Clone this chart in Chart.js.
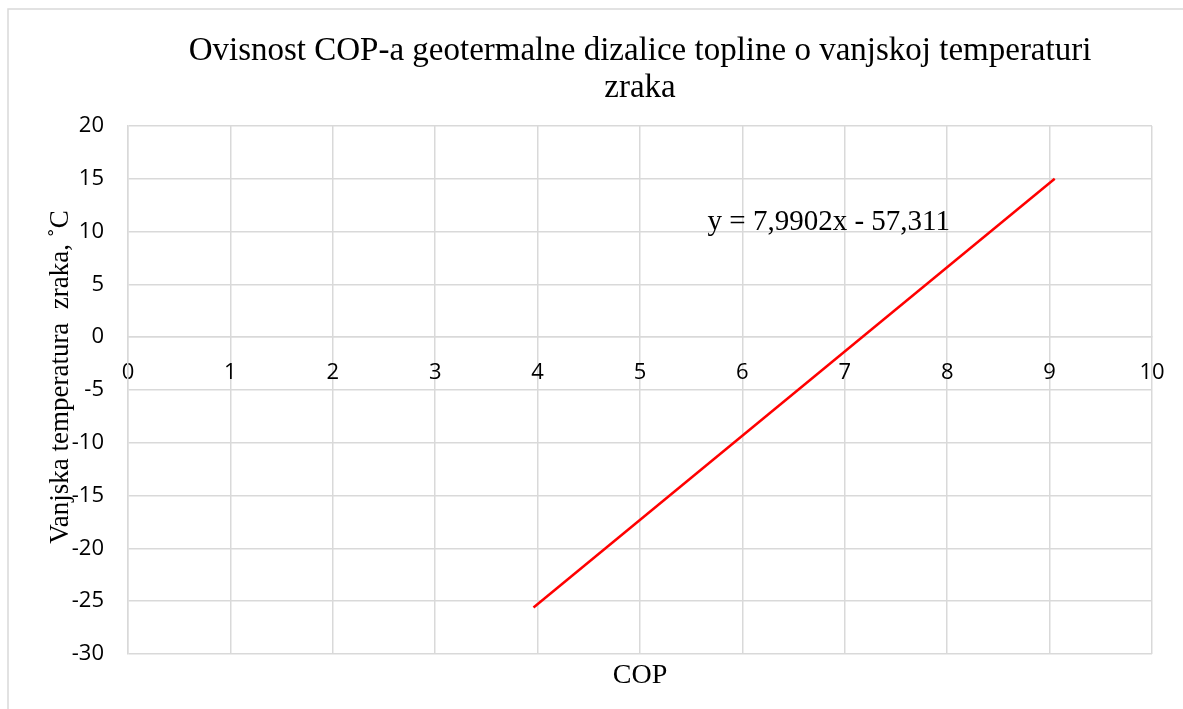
<!DOCTYPE html>
<html><head><meta charset="utf-8">
<script src="https://cdn.jsdelivr.net/npm/chart.js@4/dist/chart.umd.min.js"></script>
<style>html,body{margin:0;padding:0;background:#fff;}canvas{display:block;}</style>
</head><body>
<canvas id="c" width="1183" height="709"></canvas>
<script>
// ---- data ----
const chartTitle = ['Ovisnost COP-a geotermalne dizalice topline o vanjskoj temperaturi', 'zraka'];
const xAxisTitle = 'COP';
const yAxisTitle = 'Vanjska temperatura  zraka, ˚C';
const copValues = [3.96, 9.05];
const tempValues = [-25.6, 15.0];
const xTickValues = [0, 1, 2, 3, 4, 5, 6, 7, 8, 9, 10];
const yTickValues = [-30, -25, -20, -15, -10, -5, 0, 5, 10, 15, 20];
const equationText = 'y = 7,9902x - 57,311';
const equationAnchor = [5.66, 10.15];

// ---- styles ----
const SERIF = "'Liberation Serif', 'Times New Roman', serif";
const SANS = "'Open Sans', 'Liberation Sans', sans-serif";
const GRID = '#d9d9d9';

const points = copValues.map((x, i) => ({x: x, y: tempValues[i]}));

const noSidePadding = s => { s.paddingLeft = 0; s.paddingRight = 0; };

const frame = {
  id: 'frame',
  beforeDraw(chart) {
    const ctx = chart.ctx;
    ctx.save();
    ctx.fillStyle = '#fff';
    ctx.fillRect(0, 0, chart.width, chart.height);
    ctx.strokeStyle = GRID;
    ctx.lineWidth = 1.5;
    ctx.beginPath();
    ctx.moveTo(8, chart.height + 5);
    ctx.lineTo(8, 9);
    ctx.lineTo(chart.width + 5, 9);
    ctx.stroke();
    ctx.restore();
  }
};

const annotations = {
  id: 'annotations',
  afterDatasetsDraw(chart) {
    const ctx = chart.ctx;
    const xs = chart.scales.x, ys = chart.scales.y;
    ctx.save();
    // trendline equation
    ctx.font = '29px ' + SERIF;
    ctx.fillStyle = '#000';
    ctx.textAlign = 'left';
    ctx.textBaseline = 'alphabetic';
    ctx.fillText(equationText, xs.getPixelForValue(equationAnchor[0]), ys.getPixelForValue(equationAnchor[1]));
    // y axis title
    const area = chart.chartArea;
    ctx.translate(ys.left + 17, (area.top + area.bottom) / 2 - 13);
    ctx.rotate(-Math.PI / 2);
    ctx.font = '27px ' + SERIF;
    ctx.textAlign = 'center';
    ctx.textBaseline = 'middle';
    ctx.fillText(yAxisTitle, 0, 0);
    ctx.restore();
  }
};

new Chart(document.getElementById('c'), {
  type: 'scatter',
  data: {
    datasets: [{
      data: points,
      showLine: true,
      borderColor: '#ff0000',
      backgroundColor: '#ff0000',
      borderWidth: 2.5,
      pointRadius: 0,
      pointHoverRadius: 0,
      xAxisID: 'x',
      yAxisID: 'y'
    }]
  },
  options: {
    responsive: false,
    devicePixelRatio: 1,
    animation: false,
    events: [],
    layout: {padding: {left: 44, right: 31, top: 10, bottom: 0}},
    plugins: {
      legend: {display: false},
      tooltip: {enabled: false},
      title: {
        display: true,
        fullSize: false,
        text: chartTitle,
        color: '#000',
        font: {family: SERIF, size: 33, weight: 'normal', lineHeight: 37 / 33},
        padding: {top: 22.5, bottom: 19.5}
      }
    },
    scales: {
      x: {
        type: 'linear',
        position: {y: 0},
        min: xTickValues[0],
        max: xTickValues[xTickValues.length - 1],
        afterBuildTicks: s => { s.ticks = xTickValues.map(v => ({value: v})); },
        afterFit: noSidePadding,
        grid: {color: GRID, lineWidth: 1.5, drawTicks: false},
        border: {color: GRID, width: 1.5},
        ticks: {color: '#000', font: {family: SANS, size: 22}, padding: 22, maxRotation: 0, autoSkip: false}
      },
      x2: {
        type: 'linear',
        position: 'bottom',
        min: 0, max: 10,
        afterFit: noSidePadding,
        grid: {display: false, drawTicks: false},
        border: {display: false},
        ticks: {display: false},
        title: {
          display: true,
          text: xAxisTitle,
          color: '#000',
          font: {family: SERIF, size: 28, weight: 'normal'},
          padding: {top: 4.7, bottom: 16.7}
        }
      },
      y: {
        type: 'linear',
        position: 'left',
        min: yTickValues[0],
        max: yTickValues[yTickValues.length - 1],
        afterBuildTicks: s => { s.ticks = yTickValues.map(v => ({value: v})); },
        afterFit: s => { s.width = 84; },
        grid: {color: GRID, lineWidth: 1.5, drawTicks: false},
        border: {color: GRID, width: 1.5},
        ticks: {color: '#000', font: {family: SANS, size: 22}, padding: 24},
        title: {display: false}
      }
    }
  },
  plugins: [frame, annotations]
});
</script>
</body></html>
